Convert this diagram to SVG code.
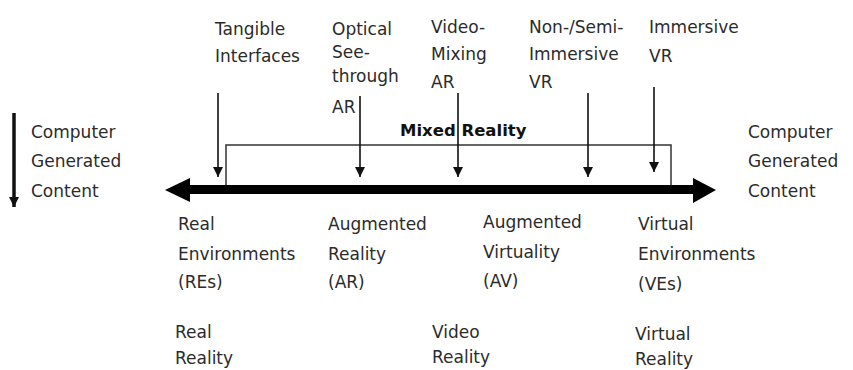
<svg xmlns="http://www.w3.org/2000/svg" width="853" height="370" viewBox="0 0 853 370">
<defs>
<style>
text{font-family:"DejaVu Sans","Liberation Sans",sans-serif;font-size:17px;fill:#2b2b2b}
.b{font-weight:bold;fill:#111;font-size:16.5px}
.v{stroke:#111;stroke-width:1.6;fill:none}
.box{stroke:#333;stroke-width:1.5;fill:none}
</style>
<marker id="ah" viewBox="0 0 10 10" refX="10" refY="5" markerWidth="10" markerHeight="10" markerUnits="userSpaceOnUse" orient="auto"><path d="M0,0 L10,5 L0,10 Z" fill="#111"/></marker>
</defs>
<rect width="853" height="370" fill="#fff"/>
<g id="mixed-reality">
<rect class="box" x="226" y="145" width="445" height="44"/>
<text class="b" x="400" y="136">Mixed Reality</text>
</g>
<g id="connectors">
<path d="M189,189.5 H694" stroke="#000" stroke-width="9"/>
<path d="M165,190 L190,178 L190,202 Z" fill="#000"/>
<path d="M716,190 L693,178 L693,203 Z" fill="#000"/>
<path d="M14,113 V207" stroke="#111" stroke-width="3.5" marker-end="url(#ah)"/>
<path class="v" d="M218,93 V177" marker-end="url(#ah)"/>
<path class="v" d="M360,96 V177" marker-end="url(#ah)"/>
<path class="v" d="M458,93 V177" marker-end="url(#ah)"/>
<path class="v" d="M588,93 V177" marker-end="url(#ah)"/>
<path class="v" d="M654,87 V172" marker-end="url(#ah)"/>
</g>
<g id="tangible"><text x="215" y="35">Tangible</text><text x="215" y="62">Interfaces</text></g>
<g id="optical"><text x="332" y="35">Optical</text><text x="332" y="58">See-</text><text x="332" y="82">through</text><text x="332" y="113">AR</text></g>
<g id="video-mixing"><text x="431" y="33">Video-</text><text x="431" y="60">Mixing</text><text x="431" y="88">AR</text></g>
<g id="non-semi"><text x="529" y="33">Non-/Semi-</text><text x="529" y="60">Immersive</text><text x="529" y="88">VR</text></g>
<g id="immersive"><text x="649" y="33">Immersive</text><text x="649" y="62">VR</text></g>
<g id="cgc-left"><text x="31" y="138">Computer</text><text x="31" y="167">Generated</text><text x="31" y="197">Content</text></g>
<g id="cgc-right"><text x="748" y="138">Computer</text><text x="748" y="167">Generated</text><text x="748" y="197">Content</text></g>
<g id="res"><text x="178" y="230">Real</text><text x="178" y="260">Environments</text><text x="178" y="288">(REs)</text></g>
<g id="ar"><text x="328" y="230">Augmented</text><text x="328" y="260">Reality</text><text x="328" y="288">(AR)</text></g>
<g id="av"><text x="483" y="228">Augmented</text><text x="483" y="258">Virtuality</text><text x="483" y="287">(AV)</text></g>
<g id="ves"><text x="638" y="230">Virtual</text><text x="638" y="260">Environments</text><text x="638" y="290">(VEs)</text></g>
<g id="real-reality"><text x="175" y="338">Real</text><text x="175" y="364">Reality</text></g>
<g id="video-reality"><text x="432" y="338">Video</text><text x="432" y="363">Reality</text></g>
<g id="virtual-reality"><text x="635" y="340">Virtual</text><text x="635" y="365">Reality</text></g>
</svg>
